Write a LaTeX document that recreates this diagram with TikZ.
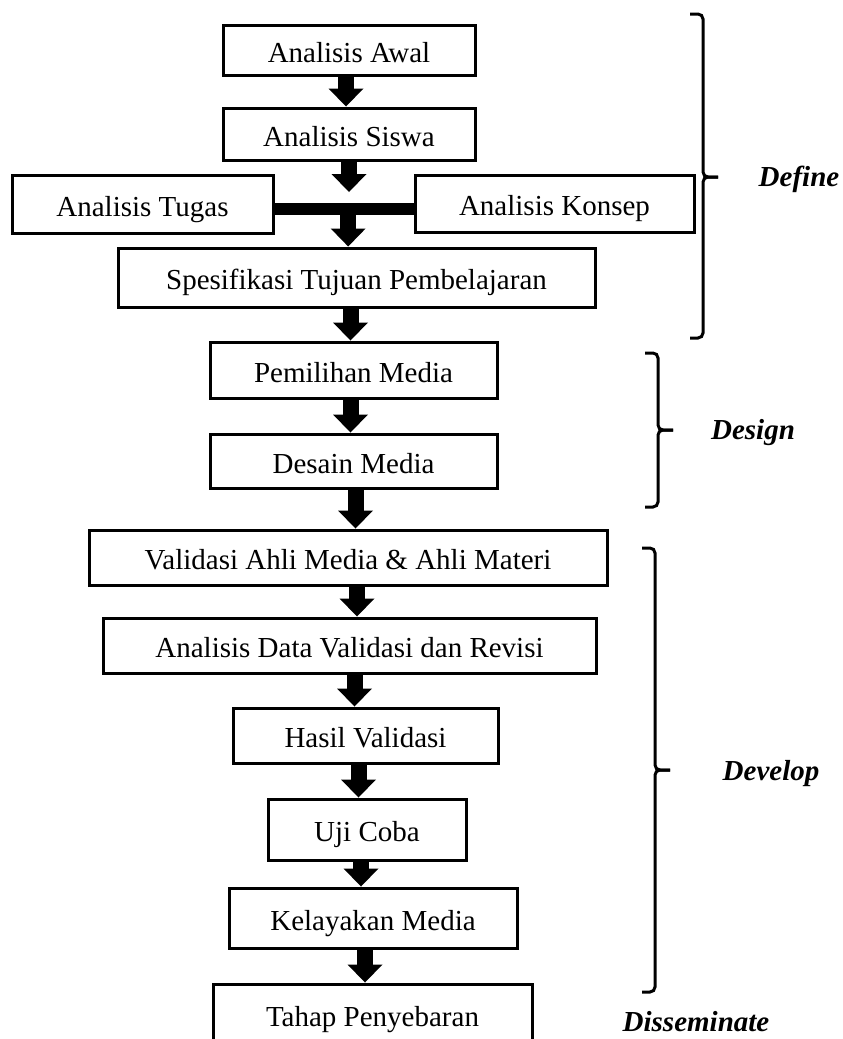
\documentclass[tikz,border=0pt]{standalone}
\usepackage{fontspec}
\setmainfont{Liberation Serif}
\usetikzlibrary{arrows.meta}
\tikzset{
    flow-box/.style = {draw=black, line width=3pt, rectangle, inner sep=0pt, text height=24pt, text depth=0pt, font=\fontsize{29}{34}\selectfont},
    flow-arrow/.style = {line width=16pt, -{Triangle[width=35pt, length=18pt, line width=0pt]}},
    join-bar/.style = {line width=12pt},
    phase-brace/.style = {line width=3pt, rounded corners=5pt},
    phase-label/.style = {anchor=base, font=\fontsize{29}{34}\selectfont\bfseries\itshape},
}

\begin{document}
\begin{tikzpicture}[x=1pt, y=-1pt]
\clip (0,0) rectangle (843,1039);
% define
\node[flow-box, minimum width=252pt, minimum height=50pt] (awal) at (349,50) {Analisis Awal};
\node[flow-box, minimum width=252pt, minimum height=52pt] (siswa) at (349,134) {Analisis Siswa};
\node[flow-box, minimum width=261pt, minimum height=58pt] (tugas) at (142.5,204) {Analisis Tugas};
\node[flow-box, minimum width=279pt, minimum height=57pt] (konsep) at (554.5,203.5) {Analisis Konsep};
\node[flow-box, minimum width=477pt, minimum height=59pt] (tujuan) at (356.5,277.5) {Spesifikasi Tujuan Pembelajaran};
% design
\node[flow-box, minimum width=287pt, minimum height=56pt] (pemilihan) at (353.5,370) {Pemilihan Media};
\node[flow-box, minimum width=287pt, minimum height=54pt] (desain) at (353.5,461) {Desain Media};
% develop
\node[flow-box, minimum width=518pt, minimum height=55pt] (validasi) at (348,557.5) {Validasi Ahli Media \& Ahli Materi};
\node[flow-box, minimum width=493pt, minimum height=55pt] (analisis-data) at (349.5,645.5) {Analisis Data Validasi dan Revisi};
\node[flow-box, minimum width=265pt, minimum height=55pt] (hasil) at (365.5,735.5) {Hasil Validasi};
\node[flow-box, minimum width=198pt, minimum height=61pt] (uji) at (367,829.5) {Uji Coba};
\node[flow-box, minimum width=288pt, minimum height=60pt] (kelayakan) at (373,918) {Kelayakan Media};
% disseminate
\node[flow-box, minimum width=319pt, minimum height=60pt] (penyebaran) at (372.5,1014) {Tahap Penyebaran};

% tugas and konsep join into one arrow
\draw[join-bar] ([yshift=-5pt]tugas.east) -- ([yshift=-5pt]tugas.east -| konsep.west) coordinate[pos=.53] (join);
\draw[flow-arrow] (siswa.south) -- ([yshift=17pt]join -| siswa.south);
\draw[flow-arrow] (join) -- (join |- tujuan.north);

\foreach \a/\b/\s in {awal/siswa/-3, tujuan/pemilihan/-6, pemilihan/desain/-3, desain/validasi/2,
    validasi/analisis-data/9, analisis-data/hasil/5, hasil/uji/-7, uji/kelayakan/-6, kelayakan/penyebaran/-8}
    \draw[flow-arrow] ([xshift=\s pt]\a.south) -- ([xshift=\s pt]\a.south |- \b.north);

% phase braces
\foreach \x/\ytop/\ymid/\ybot in {703/14/177/338, 658/353/430/507, 655/548/770/992} {
    \draw[phase-brace] (\x-13,\ytop) -| (\x,\ymid) -- (\x+15,\ymid);
    \draw[phase-brace] (\x-13,\ybot) -| (\x,\ymid) -- (\x+15,\ymid);
}
\node[phase-label] (define) at (799,186) {Define};
\node[phase-label] (design) at (753,439) {Design};
\node[phase-label] (develop) at (771,780) {Develop};
\node[phase-label] (disseminate) at (696,1031) {Disseminate};
\end{tikzpicture}
\end{document}
